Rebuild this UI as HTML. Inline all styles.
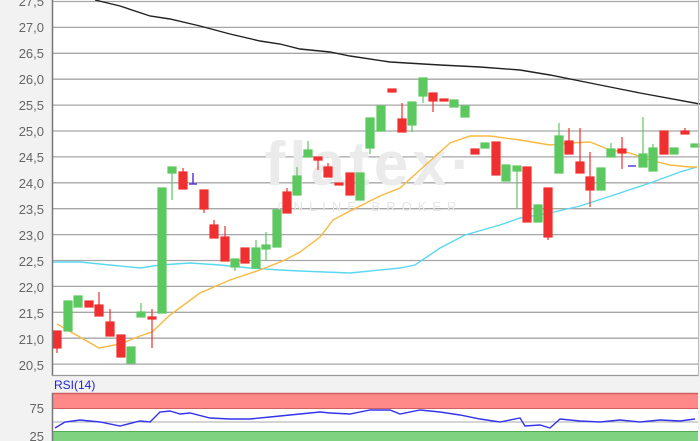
<!DOCTYPE html>
<html><head><style>
html,body{margin:0;padding:0;background:#f2f2f2;}
svg{display:block;font-family:"Liberation Sans",sans-serif;}
</style></head><body>
<svg width="700" height="441" viewBox="0 0 700 441" xmlns="http://www.w3.org/2000/svg">
<rect x="0" y="0" width="700" height="441" fill="#f2f2f2"/>
<rect x="52" y="0" width="646" height="375" fill="#fff"/>
<g stroke="#a6a6a6" stroke-width="1.3">
<line x1="52" y1="1.5" x2="698" y2="1.5"/><line x1="52" y1="27.4" x2="698" y2="27.4"/>
<line x1="52" y1="53.3" x2="698" y2="53.3"/><line x1="52" y1="79.2" x2="698" y2="79.2"/>
<line x1="52" y1="105.1" x2="698" y2="105.1"/><line x1="52" y1="131" x2="698" y2="131"/>
<line x1="52" y1="156.9" x2="698" y2="156.9"/><line x1="52" y1="182.8" x2="698" y2="182.8"/>
<line x1="52" y1="208.7" x2="698" y2="208.7"/><line x1="52" y1="234.6" x2="698" y2="234.6"/>
<line x1="52" y1="260.5" x2="698" y2="260.5"/><line x1="52" y1="286.4" x2="698" y2="286.4"/>
<line x1="52" y1="312.3" x2="698" y2="312.3"/><line x1="52" y1="338.2" x2="698" y2="338.2"/>
<line x1="52" y1="364.1" x2="698" y2="364.1"/>
</g>
<text x="370" y="185" font-size="62" fill="#ebebeb" text-anchor="middle" font-weight="bold" letter-spacing="4">flatex·</text>
<text x="370" y="211" font-size="13" fill="#e6e6e6" text-anchor="middle" letter-spacing="6">ONLINE BROKER</text>
<g font-size="13" fill="#666" text-anchor="end">
<text x="44" y="6">27,5</text><text x="44" y="32">27,0</text><text x="44" y="58">26,5</text>
<text x="44" y="84">26,0</text><text x="44" y="110">25,5</text><text x="44" y="136">25,0</text>
<text x="44" y="162">24,5</text><text x="44" y="188">24,0</text><text x="44" y="214">23,5</text>
<text x="44" y="240">23,0</text><text x="44" y="266">22,5</text><text x="44" y="292">22,0</text>
<text x="44" y="318">21,5</text><text x="44" y="344">21,0</text><text x="44" y="370">20,5</text>
</g>
<g fill="none" stroke-width="1.4">
<polyline stroke="#222" points="95,0 120,6 150,16 170,19 200,26 230,34 260,41 280,44 300,49 330,52 350,56 390,62 440,65 480,67 520,70 550,75 600,85 640,93 700,104"/>
<polyline stroke="#5ad8f0" points="52,262 80,262 100,264 140,268 160,265 190,263 220,265 250,268 280,270 300,271 350,273 400,268 415,265 440,248 465,235 500,225 520,218 550,213 580,206 620,193 650,183 680,172 697,167"/>
<polyline stroke="#f7b940" points="57,324 99,348 120,344 140,336 152,332 170,315 200,293 230,280 260,270 285,260 300,252 320,237 333,220 350,211 380,196 400,188 420,170 450,143 470,136 490,136 520,140 550,145 570,143 590,142 600,146 610,150 630,153 650,160 670,165 690,167 697,167"/>
</g>
<g stroke="#f03030" fill="#f03030" stroke-width="1.2">
<line x1="57" x2="57" y1="331" y2="353"/><rect x="53" y="331" width="8" height="17"/>
<rect x="85" y="301" width="8" height="6"/>
<line x1="99" x2="99" y1="292" y2="316"/><rect x="95" y="305" width="8" height="11"/>
<line x1="110" x2="110" y1="309" y2="336"/><rect x="106" y="322" width="8" height="14"/>
<rect x="117" y="335" width="8" height="22"/>
<line x1="152" x2="152" y1="309" y2="348"/><rect x="148" y="317" width="8" height="2"/>
<line x1="183" x2="183" y1="168" y2="189"/><rect x="179" y="172" width="8" height="17"/>
<line x1="204" x2="204" y1="190" y2="213"/><rect x="200" y="190" width="8" height="19"/>
<line x1="214" x2="214" y1="220" y2="238"/><rect x="210" y="225" width="8" height="13"/>
<line x1="225" x2="225" y1="226" y2="261"/><rect x="221" y="237" width="8" height="24"/>
<rect x="241" y="248" width="8" height="15"/>
<line x1="287" x2="287" y1="188" y2="213"/><rect x="283" y="192" width="8" height="21"/>
<line x1="318" x2="318" y1="157" y2="170"/><rect x="314" y="157" width="8" height="3"/>
<line x1="328" x2="328" y1="163" y2="177"/><rect x="324" y="167" width="8" height="10"/>
<rect x="335" y="183" width="8" height="2"/>
<rect x="346" y="173" width="8" height="22"/>
<rect x="388" y="89" width="8" height="3"/>
<line x1="402" x2="402" y1="103" y2="132"/><rect x="398" y="119" width="8" height="13"/>
<line x1="433" x2="433" y1="93" y2="112"/><rect x="429" y="93" width="8" height="8"/>
<rect x="440" y="99" width="8" height="2"/>
<rect x="471" y="149" width="8" height="5"/>
<rect x="492" y="142" width="8" height="33"/>
<rect x="523" y="167" width="8" height="55"/>
<line x1="548" x2="548" y1="188" y2="240"/><rect x="544" y="188" width="8" height="49"/>
<line x1="569" x2="569" y1="128" y2="154"/><rect x="565" y="141" width="8" height="13"/>
<line x1="580" x2="580" y1="128" y2="173"/><rect x="576" y="162" width="8" height="11"/>
<line x1="590" x2="590" y1="152" y2="207"/><rect x="586" y="177" width="8" height="13"/>
<line x1="622" x2="622" y1="137" y2="169"/><rect x="618" y="149" width="8" height="4"/>
<rect x="660" y="131" width="8" height="23"/>
<line x1="685" x2="685" y1="128" y2="134"/><rect x="681" y="131" width="8" height="3"/>
</g>
<g stroke="#5cc860" fill="#5cc860" stroke-width="1.2">
<rect x="64" y="301" width="8" height="30"/>
<rect x="74" y="296" width="8" height="11"/>
<rect x="127" y="347" width="8" height="16"/>
<line x1="141" x2="141" y1="303" y2="317"/><rect x="137" y="312" width="8" height="5"/>
<rect x="158" y="188" width="8" height="125"/>
<line x1="172" x2="172" y1="167" y2="200"/><rect x="168" y="167" width="8" height="6"/>
<line x1="235" x2="235" y1="259" y2="271"/><rect x="231" y="259" width="8" height="8"/>
<line x1="256" x2="256" y1="240" y2="268"/><rect x="252" y="248" width="8" height="20"/>
<line x1="266" x2="266" y1="232" y2="260"/><rect x="262" y="245" width="8" height="4"/>
<rect x="273" y="210" width="8" height="37"/>
<line x1="297" x2="297" y1="167" y2="195"/><rect x="293" y="176" width="8" height="19"/>
<line x1="308" x2="308" y1="141" y2="157"/><rect x="304" y="150" width="8" height="7"/>
<rect x="356" y="173" width="8" height="27"/>
<line x1="370" x2="370" y1="118" y2="154"/><rect x="366" y="118" width="8" height="30"/>
<rect x="377" y="106" width="8" height="25"/>
<line x1="412" x2="412" y1="102" y2="132"/><rect x="408" y="102" width="8" height="23"/>
<line x1="423" x2="423" y1="78" y2="103"/><rect x="419" y="78" width="8" height="18"/>
<rect x="450" y="100" width="8" height="7"/>
<rect x="461" y="106" width="8" height="11"/>
<rect x="481" y="143" width="8" height="5"/>
<rect x="502" y="165" width="8" height="16"/>
<line x1="517" x2="517" y1="166" y2="209"/><rect x="513" y="166" width="8" height="5"/>
<rect x="534" y="205" width="8" height="17"/>
<line x1="559" x2="559" y1="123" y2="173"/><rect x="555" y="136" width="8" height="37"/>
<rect x="597" y="168" width="8" height="22"/>
<line x1="611" x2="611" y1="143" y2="157"/><rect x="607" y="149" width="8" height="8"/>
<line x1="643" x2="643" y1="117" y2="167"/><rect x="639" y="154" width="8" height="13"/>
<line x1="653" x2="653" y1="144" y2="171"/><rect x="649" y="148" width="8" height="23"/>
<rect x="670" y="148" width="8" height="6"/>
<rect x="691" y="144" width="8" height="3"/>
</g>
<g stroke="#5a3cd8" stroke-width="1.5">
<line x1="193" x2="193" y1="173" y2="184"/><line x1="189" x2="197" y1="184" y2="184"/>
<line x1="628" x2="636" y1="166" y2="166"/>
</g>
<line x1="52.5" y1="0" x2="52.5" y2="376" stroke="#777" stroke-width="1.5"/>
<line x1="52" y1="375.5" x2="698" y2="375.5" stroke="#999" stroke-width="1.2"/>
<line x1="698.5" y1="0" x2="698.5" y2="376" stroke="#bbb" stroke-width="1"/>
<text x="54" y="389" font-size="12" fill="#2222dd">RSI(14)</text>
<rect x="52" y="393" width="646" height="48" fill="#fff"/>
<rect x="52" y="393" width="646" height="16" fill="#f88"/>
<line x1="52" y1="393.5" x2="698" y2="393.5" stroke="#d06060" stroke-width="1.5"/>
<line x1="52" y1="408.5" x2="698" y2="408.5" stroke="#d06060" stroke-width="1"/>
<rect x="52" y="431" width="646" height="10" fill="#7fd27f"/>
<line x1="52" y1="431.5" x2="698" y2="431.5" stroke="#55aa55" stroke-width="1"/>
<line x1="52" y1="422" x2="698" y2="422" stroke="#aaa" stroke-width="1"/>
<line x1="52.5" y1="393" x2="52.5" y2="441" stroke="#777" stroke-width="1.5"/>
<polyline fill="none" stroke="#3333ee" stroke-width="1.4" points="55,428 65,422 80,420 100,422 120,426 140,421 150,422 160,412 170,411 180,414 190,413 210,418 230,419 250,419 270,417 290,415 300,414 320,412 330,413 350,414 370,410 390,410 400,414 420,410 440,412 460,415 480,419 500,422 520,418 525,426 540,425 550,428 560,419 580,421 600,422 620,420 640,422 660,420 680,421 695,419"/>
<g font-size="13" fill="#666" text-anchor="end"><text x="44" y="413">75</text><text x="44" y="441">25</text></g>
</svg>
</body></html>
